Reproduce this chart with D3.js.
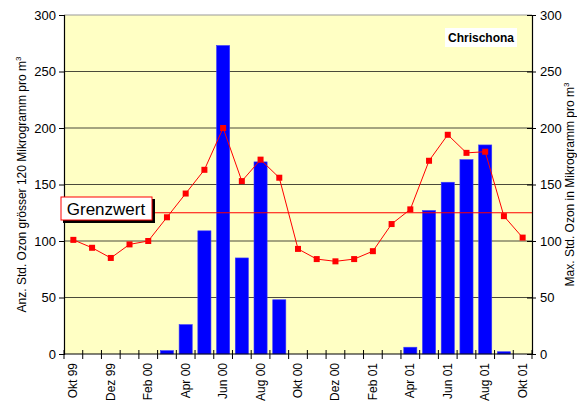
<!DOCTYPE html>
<html>
<head>
<meta charset="utf-8">
<script src="https://cdn.jsdelivr.net/npm/d3@7"></script>
<style>
  body { margin: 0; background: #fff; }
  text { font-family: "Liberation Sans", Arial, sans-serif; }
</style>
</head>
<body>
<div id="chart"></div>
<script>
// months Okt 99 .. Okt 01
const months = ["Okt 99", "Nov 99", "Dez 99", "Jan 00", "Feb 00", "Mrz 00", "Apr 00", "Mai 00",
  "Jun 00", "Jul 00", "Aug 00", "Sep 00", "Okt 00", "Nov 00", "Dez 00", "Jan 01", "Feb 01",
  "Mrz 01", "Apr 01", "Mai 01", "Jun 01", "Jul 01", "Aug 01", "Sep 01", "Okt 01"];
const labelMonths = ["Okt 99", "Dez 99", "Feb 00", "Apr 00", "Jun 00", "Aug 00", "Okt 00",
  "Dez 00", "Feb 01", "Apr 01", "Jun 01", "Aug 01", "Okt 01"];

// hours above 120 (bars, left axis)
const hours = [0, 0, 0, 0, 0, 3, 26, 109, 273, 85, 170, 48, 0, 0, 0, 0, 0, 0, 6, 127, 152, 172, 185, 2, 0];
// max hourly ozone (line, right axis)
const maxOzone = [101, 94, 85, 97, 100, 121, 142, 163, 200, 153, 172, 156, 93, 84, 82, 84, 91,
  115, 128, 171, 194, 178, 179, 122, 103];
const grenzwert = 125;
const yTicks = [0, 50, 100, 150, 200, 250, 300];

const width = 577;
const height = 405;
const margin = {left: 64, right: 45, top: 15, bottom: 51};

const svg = d3.select("#chart")
  .append("svg")
  .attr("width", width)
  .attr("height", height);

// bars use a padded band, line + ticks use the full month step
const x = d3.scaleBand()
  .domain(months)
  .range([margin.left, width - margin.right])
  .paddingInner(0.3)
  .paddingOuter(0.15);

const xGrid = d3.scaleBand()
  .domain(months)
  .range([margin.left, width - margin.right]);

const yLeft = d3.scaleLinear()
  .domain([0, 300])
  .range([height - margin.bottom, margin.top]);

const yRight = d3.scaleLinear()
  .domain([0, 300])
  .range([height - margin.bottom, margin.top]);

const x0 = margin.left, x1 = width - margin.right;
const y0 = height - margin.bottom, y1 = margin.top;

// plot background
svg.append("rect")
  .attr("x", x0)
  .attr("y", y1)
  .attr("width", x1 - x0)
  .attr("height", y0 - y1)
  .attr("fill", "#ffffc4");

// gridlines
svg.append("g")
  .selectAll("line")
  .data(yTicks.filter(d => d > 0))
  .enter()
  .append("line")
  .attr("x1", x0)
  .attr("x2", x1)
  .attr("y1", d => yLeft(d))
  .attr("y2", d => yLeft(d))
  .attr("stroke", d => d === 300 ? "#999" : "#4a4a3a")
  .attr("stroke-width", 1.2);

// bars
svg.append("g")
  .selectAll("rect")
  .data(months.map((m, i) => ({m: m, v: hours[i]})).filter(d => d.v > 0))
  .enter()
  .append("rect")
  .attr("x", d => x(d.m))
  .attr("width", x.bandwidth())
  .attr("y", d => yLeft(d.v))
  .attr("height", d => y0 - yLeft(d.v))
  .attr("fill", "#0000ff")
  .attr("stroke", "#3a3aff")
  .attr("stroke-width", 0.6);

// Grenzwert line
svg.append("line")
  .attr("x1", x0)
  .attr("x2", x1)
  .attr("y1", yRight(grenzwert))
  .attr("y2", yRight(grenzwert))
  .attr("stroke", "#ff0000")
  .attr("stroke-width", 1.2);

// max ozone line
const line = d3.line()
  .x((d, i) => xGrid(months[i]) + xGrid.bandwidth() / 2)
  .y(d => yRight(d));

svg.append("path")
  .datum(maxOzone)
  .attr("d", line)
  .attr("fill", "none")
  .attr("stroke", "#ff0000")
  .attr("stroke-width", 1);

svg.append("g")
  .selectAll("rect")
  .data(maxOzone)
  .enter()
  .append("rect")
  .attr("x", (d, i) => xGrid(months[i]) + xGrid.bandwidth() / 2 - 3)
  .attr("y", d => yRight(d) - 3)
  .attr("width", 6)
  .attr("height", 6)
  .attr("fill", "#ff0000");

// left axis
const leftAxis = svg.append("g")
  .attr("transform", `translate(${x0},0)`)
  .call(d3.axisLeft(yLeft).tickValues(yTicks).tickSize(5).tickPadding(3));
leftAxis.selectAll("text").attr("font-size", "13px").attr("fill", "#000");

// right axis
const rightAxis = svg.append("g")
  .attr("transform", `translate(${x1},0)`)
  .call(d3.axisRight(yRight).tickValues(yTicks).tickSize(4).tickPadding(4));
rightAxis.selectAll("text").attr("font-size", "13px").attr("fill", "#000");
rightAxis.selectAll(".tick line").attr("x1", -5);

[leftAxis, rightAxis].forEach(a => {
  a.select(".domain").attr("stroke", "#000").attr("stroke-width", 1.2);
  a.selectAll(".tick line").attr("stroke", "#000");
});

// bottom axis with ticks between months
const bottom = svg.append("g");
bottom.append("line")
  .attr("x1", x0)
  .attr("x2", x1)
  .attr("y1", y0)
  .attr("y2", y0)
  .attr("stroke", "#000")
  .attr("stroke-width", 1.2);
bottom.selectAll(".tk")
  .data(months.concat(["end"]))
  .enter()
  .append("line")
  .attr("x1", (d, i) => x0 + i * xGrid.step())
  .attr("x2", (d, i) => x0 + i * xGrid.step())
  .attr("y1", y0 - 4)
  .attr("y2", y0 + 5)
  .attr("stroke", "#000");
bottom.selectAll("text")
  .data(labelMonths)
  .enter()
  .append("text")
  .attr("transform", d => `translate(${xGrid(d) + xGrid.bandwidth() / 2 + 4},${y0 + 9}) rotate(-90)`)
  .attr("text-anchor", "end")
  .attr("font-size", "12px")
  .attr("fill", "#000")
  .text(d => d);

// axis titles
svg.append("text")
  .attr("transform", `translate(26,${(y0 + y1) / 2}) rotate(-90)`)
  .attr("text-anchor", "middle")
  .attr("font-size", "12px")
  .attr("fill", "#000")
  .html('Anz. Std. Ozon grösser 120 Mikrogramm pro m<tspan dy="-5" font-size="8px">3</tspan>');

svg.append("text")
  .attr("transform", `translate(574,${(y0 + y1) / 2}) rotate(-90)`)
  .attr("text-anchor", "middle")
  .attr("font-size", "12px")
  .attr("fill", "#000")
  .html('Max. Std. Ozon in Mikrogramm pro m<tspan dy="-5" font-size="8px">3</tspan>');

// Grenzwert label
svg.append("rect")
  .attr("x", 63)
  .attr("y", 199)
  .attr("width", 92)
  .attr("height", 24)
  .attr("fill", "#000");
svg.append("rect")
  .attr("x", 61)
  .attr("y", 197)
  .attr("width", 91)
  .attr("height", 23)
  .attr("fill", "#fff")
  .attr("stroke", "#ff0000")
  .attr("stroke-width", 1);
svg.append("text")
  .attr("x", 106)
  .attr("y", 215)
  .attr("text-anchor", "middle")
  .attr("font-size", "17px")
  .attr("fill", "#000")
  .text("Grenzwert");

// station label
svg.append("rect")
  .attr("x", 445)
  .attr("y", 28)
  .attr("width", 72)
  .attr("height", 19)
  .attr("fill", "#fff");
svg.append("text")
  .attr("x", 481)
  .attr("y", 42)
  .attr("text-anchor", "middle")
  .attr("font-size", "12px")
  .attr("font-weight", "bold")
  .attr("fill", "#000")
  .text("Chrischona");
</script>
</body>
</html>
